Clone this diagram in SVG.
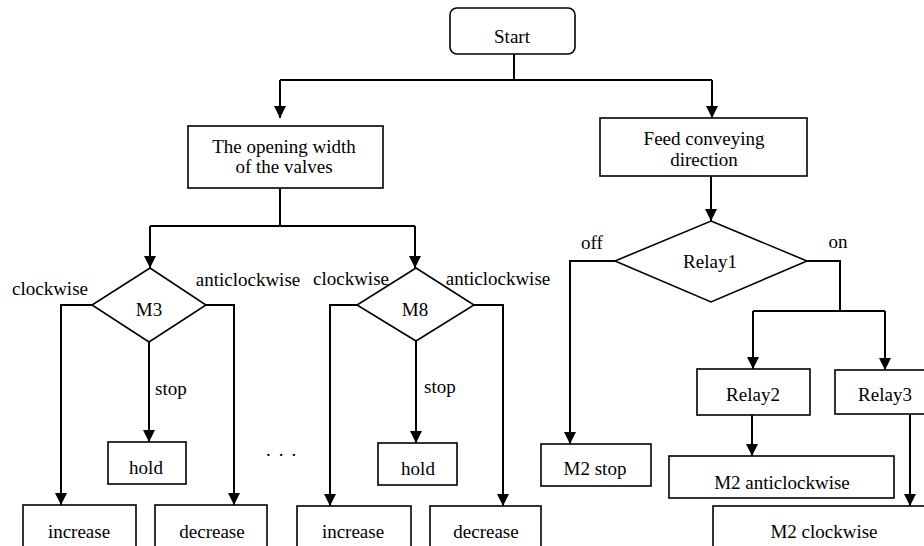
<svg xmlns="http://www.w3.org/2000/svg" width="924" height="546" viewBox="0 0 924 546">
<style>
.box{fill:#fff;stroke:#000;stroke-width:1.6}
.ln{fill:none;stroke:#000;stroke-width:2}
.arr{marker-end:url(#ah)}
text{font-family:"Liberation Serif","Times New Roman",serif;font-size:19px;fill:#000}
.c{text-anchor:middle}
</style>
<defs>
<marker id="ah" markerUnits="userSpaceOnUse" markerWidth="13" markerHeight="12" refX="12" refY="6" orient="auto">
<path d="M0,0 L12,6 L0,12 z" fill="#000"/>
</marker>
</defs>
<rect width="924" height="546" fill="#fff"/>
<g id="connectors">
<path class="ln" d="M514,54 V80 M280,80 H712"/>
<path class="ln arr" d="M280,80 V118"/>
<path class="ln arr" d="M712,80 V118"/>
<path class="ln" d="M280,188 V226 M150,226 H415"/>
<path class="ln arr" d="M150,226 V268"/>
<path class="ln arr" d="M415,226 V268"/>
<path class="ln arr" d="M92,305 H61 V505"/>
<path class="ln arr" d="M206,305 H234 V505"/>
<path class="ln arr" d="M149,342 V442"/>
<path class="ln arr" d="M357,305 H330 V506"/>
<path class="ln arr" d="M474,305 H503 V506"/>
<path class="ln arr" d="M416,341 V443"/>
<path class="ln arr" d="M711,176 V221"/>
<path class="ln arr" d="M615,261 H570 V444"/>
<path class="ln" d="M807,261 H840 V311 M753,311 H885"/>
<path class="ln arr" d="M753,311 V369"/>
<path class="ln arr" d="M885,311 V370"/>
<path class="ln arr" d="M752,415 V456"/>
<path class="ln arr" d="M910,415 V506"/>
</g>
<g id="start"><rect class="box" x="450" y="8" width="125" height="46" rx="7"/><text class="c" x="512" y="43">Start</text></g>
<g id="valves"><rect class="box" x="188" y="126" width="195" height="62"/><text class="c" x="284" y="153">The opening width</text><text class="c" x="284" y="173">of the valves</text></g>
<g id="feed"><rect class="box" x="600" y="118" width="207" height="58"/><text class="c" x="704" y="145">Feed conveying</text><text class="c" x="704" y="166">direction</text></g>
<g id="m3"><polygon class="box" points="150,268 206,305 149,342 92,305"/><text class="c" x="149" y="316">M3</text></g>
<g id="m8"><polygon class="box" points="416,268 474,305 416,341 357,305"/><text class="c" x="415" y="316">M8</text></g>
<g id="relay1"><polygon class="box" points="711,221 807,261 711,302 615,261"/><text class="c" x="710" y="268">Relay1</text></g>
<g id="hold1"><rect class="box" x="108" y="442" width="78" height="42"/><text class="c" x="146" y="474">hold</text></g>
<g id="hold2"><rect class="box" x="378" y="443" width="79" height="42"/><text class="c" x="418" y="475">hold</text></g>
<g id="increase1"><rect class="box" x="23" y="505" width="113" height="50"/><text class="c" x="79" y="538">increase</text></g>
<g id="decrease1"><rect class="box" x="155" y="505" width="112" height="50"/><text class="c" x="212" y="538">decrease</text></g>
<g id="increase2"><rect class="box" x="297" y="506" width="114" height="50"/><text class="c" x="353" y="538">increase</text></g>
<g id="decrease2"><rect class="box" x="430" y="506" width="111" height="50"/><text class="c" x="486" y="538">decrease</text></g>
<g id="m2stop"><rect class="box" x="541" y="444" width="110" height="42"/><text class="c" x="595" y="475">M2 stop</text></g>
<g id="relay2"><rect class="box" x="697" y="369" width="113" height="46"/><text class="c" x="753" y="401">Relay2</text></g>
<g id="relay3"><rect class="box" x="835" y="370" width="100" height="44"/><text class="c" x="885" y="401">Relay3</text></g>
<g id="m2anti"><rect class="box" x="669" y="456" width="225" height="42"/><text class="c" x="782" y="489">M2 anticlockwise</text></g>
<g id="m2cw"><rect class="box" x="713" y="506" width="220" height="50"/><text class="c" x="824" y="538">M2 clockwise</text></g>
<g id="labels">
<text class="c" x="50" y="295">clockwise</text>
<text class="c" x="248" y="286">anticlockwise</text>
<text class="c" x="351" y="285">clockwise</text>
<text class="c" x="498" y="285">anticlockwise</text>
<text x="155" y="395">stop</text>
<text x="424" y="393">stop</text>
<text class="c" x="592" y="249">off</text>
<text class="c" x="838" y="248">on</text>
<text x="266" y="456" letter-spacing="8">...</text>
</g>
</svg>
